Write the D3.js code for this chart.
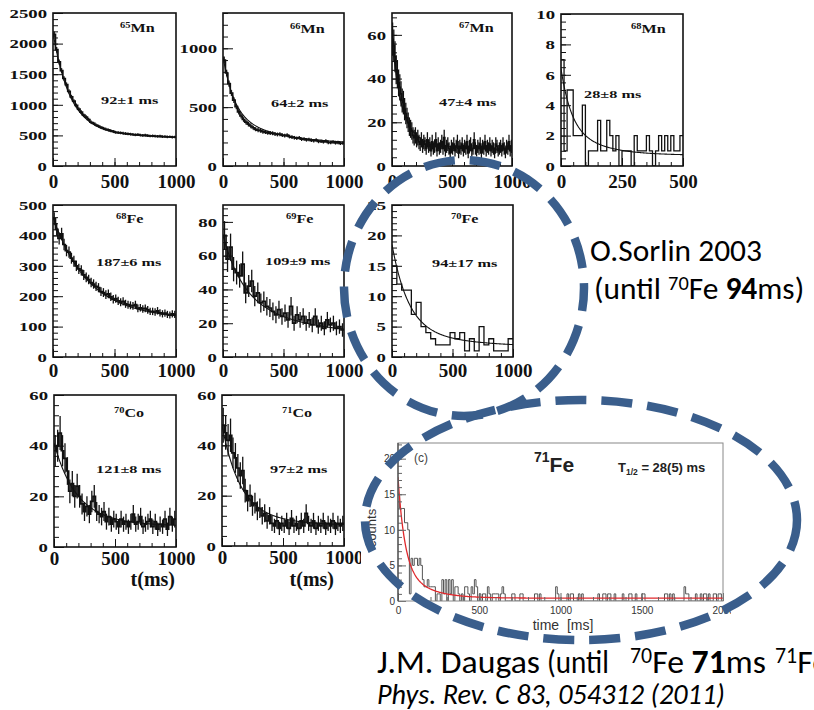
<!DOCTYPE html>
<html>
<head>
<meta charset="utf-8">
<script src="https://cdn.jsdelivr.net/npm/d3@7"></script>
<style>
  html, body { margin: 0; padding: 0; background: #fff; }
  svg { display: block; }
</style>
</head>
<body>
<svg id="chart" width="814" height="710"></svg>
<script>
// ---------- decay curves measured by O. Sorlin et al. (2003) ----------
const nuclideMasses   = [65, 66, 67, 68, 68, 69, 70, 70, 71];
const nuclideElements = ["Mn", "Mn", "Mn", "Mn", "Fe", "Fe", "Fe", "Co", "Co"];
const halfLives       = [92, 64, 47, 28, 187, 109, 94, 121, 97];
const halfLifeErrors  = [1, 2, 4, 8, 6, 9, 17, 8, 2];
const binWidths       = [20, 20, 10, 12.5, 20, 25, 40, 20, 20];
const timeRanges      = [1000, 1000, 1000, 500, 1000, 1000, 1000, 1000, 1000];
const countRanges     = [2500, 1300, 70, 10, 500, 90, 25, 60, 60];
const countTickSteps  = [500, 500, 20, 2, 100, 20, 5, 20, 20];
const countMinorSteps = [100, 100, 4, 0.5, 20, 4, 1, 4, 4];
const timeTickSteps   = [500, 500, 500, 250, 500, 500, 500, 500, 500];
const timeMinorSteps  = [100, 100, 100, 50, 100, 100, 100, 100, 100];
// fit model: parent decay (stated half-life) + daughter/contaminant component + flat background
const parentAmps        = [1495, 500, 40, 3.5, 310, 35, 14, 28, 32];
const daughterAmps      = [240, 250, 12, 2.2, 60, 25, 3, 5, 8];
const daughterHalfLives = [300, 300, 150, 90, 1500, 400, 400, 300, 250];
const backgrounds       = [445, 180, 7.5, 0.7, 90, 12, 1.5, 8, 8];
const withErrorBars     = [true, true, true, false, true, true, false, true, true];

const counts65Mn = [2150,1900,1700,1560,1430,1330,1220,1130,1060,990, 930,880,830,800,760,715,695,670,650,630,
  615,600,590,575,565,550,545,540,535,530, 525,520,515,510,512,505,500,503,495,490, 492,488,485,487,480,482,476,478,472,474];
const counts66Mn = [900,790,700,620,560,505,460,425,395,372,355,340,325,312,305,300,292,288,282,280,
  278,272,268,270,262,258,262,250,245,240,236,240,228,230,222,225,218,215,220,208,210,205,212,200,198,205,196,200,192,195];
const counts67Mn = [58,55,50,44,42,38,36,33,30,29, 26,24,22,20,18,17,16,14,13,14,
  12,13,11,10,12,9,11,10,8,12, 9,10,7,11,8,9,12,7,10,8, 9,11,8,13,7,9,10,8,6,9,
  8,10,7,9,11,6,9,8,10,7, 9,8,11,6,9,10,7,8,12,8, 7,9,8,10,6,9,8,11,7,9,
  8,10,7,9,8,6,10,9,7,8, 9,7,10,8,6,9,8,11,7,9];
const counts68Mn = [7,1,5,5,2,2,2,4,0,1,1,1,3,1,1,3,2,1,2,0,1,1,1,0,2,1,1,1,2,1,0,1,2,1,2,1,2,1,1,2];
const counts68Fe = [455,420,390,405,370,350,345,325,315,300,290,285,270,262,255,245,240,232,228,215,
  212,205,208,198,190,192,185,180,183,175,172,170,168,172,160,162,158,160,155,150,150,148,152,145,142,144,140,138,142,140];
const counts69Fe = [72,58,65,52,50,48,55,38,42,45,36,38,32,33,30,29,27,25,28,24,
  26,22,30,20,25,22,24,20,22,19,24,18,20,17,22,19,20,17,18,16];
const counts70Fe = [15,12,11,11,7,9,5,4,3,2,2,2,4,3,4,1,3,1,5,2,3,1,1,1,3];
const counts70Co = [38,40,45,38,35,30,22,25,20,24,20,17,14,16,13,18,20,14,13,12,14,10,12,9,11,
  10,8,11,9,10,8,10,13,9,10,12,8,9,10,11,8,10,7,9,8,11,7,12,9,11];
const counts71Co = [48,45,42,44,37,35,31,28,30,22,18,20,16,17,14,15,12,13,10,12,9,8,10,7,9,
  8,10,7,11,8,9,7,10,8,13,9,8,10,7,9,8,10,7,9,8,10,7,9,8,9];
const sorlinCounts = [counts65Mn, counts66Mn, counts67Mn, counts68Mn, counts68Fe,
  counts69Fe, counts70Fe, counts70Co, counts71Co];

// ---------- 71Fe decay curve, J.M. Daugas et al. (2011) ----------
const fe71Counts = [
  15,13,13,13,11,11,10,1,6,5, 6,6,5,6,5,3,2,2,3,2, 2,2,2,0,1,1,0,3,1,3, 0,3,1,3,0,2,2,1,0,1,
  0,2,2,1,0,2,1,3,2,0, 1,0,1,1,0,2,1,0,1,1, 1,1,0,1,2,1,0,0,0,0, 1,1,0,0,0,1,1,0,0,0,
  0,0,0,0,1,1,0,1,0,0, 0,0,0,0,0,0,0,2,1,0, 0,0,0,0,1,0,1,1,0,0, 0,1,0,1,0,0,0,0,0,0,
  0,0,0,1,0,0,1,1,0,1, 1,0,0,1,0,0,0,0,1,0, 0,0,1,1,0,0,1,0,0,0, 1,1,0,0,0,0,0,0,0,0,
  0,0,0,0,1,1,0,1,0,1, 0,0,0,0,0,0,2,1,1,0, 0,0,0,1,0,0,1,0,1,1, 0,1,0,0,1,1,0,1,1,0];
const fe71BinWidth = 10;
const fe71TimeRange = 2000;
const fe71CountRange = 22.2;
const fe71HalfLife = 28;
const fe71HalfLifeError = 5;
const fe71ParentAmp = 12;
const fe71DaughterAmp = 5;
const fe71DaughterHalfLife = 97;
const fe71Background = 0.4;
const daugasFe70HalfLife = 71;

// ---------- layout ----------
const frames = [
  { x: 53,  y: 13,  w: 123, h: 153 },
  { x: 223, y: 13,  w: 121, h: 153 },
  { x: 392, y: 13,  w: 120, h: 153 },
  { x: 561, y: 14,  w: 122, h: 152 },
  { x: 53,  y: 205, w: 123, h: 152 },
  { x: 223, y: 205, w: 121, h: 152 },
  { x: 392, y: 205, w: 121, h: 152 },
  { x: 54,  y: 395, w: 122, h: 152 },
  { x: 222, y: 395, w: 122, h: 151 }
];
// nuclide label (dx, dy) and half-life label (dx, dy), relative to each frame's top-left
const labelOffsets = [
  [67, 19, 48, 91], [67, 20, 48, 94], [67, 19, 47, 93], [70, 19, 23, 84],
  [63, 18, 43, 61], [63, 18, 42, 60], [59, 18, 40, 62], [60, 22, 42, 78], [60, 22, 48, 78]
];
const timeLabelDrops = [22, 22, 22, 22, 20, 20, 20, 18, 18];
const serif = "'Liberation Serif', 'Times New Roman', Times, serif";
const sans = "'Liberation Sans', Arial, Helvetica, sans-serif";
const slideFont = "Carlito, Calibri, Lato, 'Open Sans', sans-serif";
const ink = "#111";
const annotationBlue = "#3a5e8c";

const svg = d3.select("#chart");
svg.append("rect").attr("width", 814).attr("height", 710).attr("fill", "#fff");
const defs = svg.append("defs");

function decayModel(t, A, T, D, Td, B) {
  return A * Math.pow(2, -t / T) + D * Math.pow(2, -t / Td) + B;
}
function stepPoints(counts, bw) {
  const pts = counts.map((v, k) => [k * bw, v]);
  pts.push([counts.length * bw, counts[counts.length - 1]]);
  return pts;
}
function ticksUpTo(max, step) {
  return d3.range(0, max + step * 1e-6, step);
}

// ---------- Sorlin panels ----------
sorlinCounts.forEach((counts, i) => {
  const f = frames[i];
  const x = d3.scaleLinear().domain([0, timeRanges[i]]).range([f.x, f.x + f.w]);
  const y = d3.scaleLinear().domain([0, countRanges[i]]).range([f.y + f.h, f.y]);
  const g = svg.append("g");

  const clipId = "clip" + i;
  defs.append("clipPath").attr("id", clipId)
    .append("rect").attr("x", f.x).attr("y", f.y).attr("width", f.w).attr("height", f.h);
  const plot = g.append("g").attr("clip-path", `url(#${clipId})`);

  const bw = binWidths[i];
  const line = d3.line().x(d => x(d[0])).y(d => y(d[1]));
  plot.append("path")
    .attr("d", line.curve(d3.curveStepAfter)(stepPoints(counts, bw)))
    .attr("fill", "none").attr("stroke", ink)
    .attr("stroke-width", withErrorBars[i] ? 1.7 : 1.3);

  if (withErrorBars[i]) {
    plot.selectAll("line.err").data(counts).join("line")
      .attr("x1", (d, k) => x((k + 0.5) * bw)).attr("x2", (d, k) => x((k + 0.5) * bw))
      .attr("y1", d => y(d - Math.sqrt(d))).attr("y2", d => y(d + Math.sqrt(d)))
      .attr("stroke", ink).attr("stroke-width", 1.3);
  }

  const ts = d3.range(0, timeRanges[i] + 0.001, timeRanges[i] / 300);
  plot.append("path")
    .attr("d", d3.line().x(t => x(t))
      .y(t => y(decayModel(t, parentAmps[i], halfLives[i], daughterAmps[i], daughterHalfLives[i], backgrounds[i])))(ts))
    .attr("fill", "none").attr("stroke", ink).attr("stroke-width", 1.1);

  // left axis: long labelled ticks plus short minor ticks, all pointing inwards
  const yMinor = g.append("g").attr("transform", `translate(${f.x},0)`)
    .call(d3.axisLeft(y).tickValues(ticksUpTo(countRanges[i], countMinorSteps[i])).tickSize(-5).tickFormat(""));
  const yMajor = g.append("g").attr("transform", `translate(${f.x},0)`)
    .call(d3.axisLeft(y).tickValues(ticksUpTo(countRanges[i], countTickSteps[i])).tickSize(-10).tickFormat(d3.format("d")));
  const xMinor = g.append("g").attr("transform", `translate(0,${f.y + f.h})`)
    .call(d3.axisBottom(x).tickValues(ticksUpTo(timeRanges[i], timeMinorSteps[i])).tickSize(-4).tickFormat(""));
  const xMajor = g.append("g").attr("transform", `translate(0,${f.y + f.h})`)
    .call(d3.axisBottom(x).tickValues(ticksUpTo(timeRanges[i], timeTickSteps[i])).tickSize(-8).tickFormat(d3.format("d")));
  [yMinor, yMajor, xMinor, xMajor].forEach(a => {
    a.select(".domain").remove();
    a.selectAll(".tick line").attr("stroke", ink).attr("stroke-width", 1);
    a.attr("font-family", serif).attr("font-weight", "bold").attr("fill", ink);
  });
  yMajor.selectAll(".tick text")
    .attr("x", 0).attr("dy", "0.34em").attr("font-size", 12.5).attr("fill", ink)
    .attr("transform", "translate(-6,0) scale(1.5,1)");
  xMajor.selectAll(".tick text")
    .attr("y", timeLabelDrops[i]).attr("dy", 0).attr("font-size", 19).attr("fill", ink);

  g.append("rect").attr("x", f.x).attr("y", f.y).attr("width", f.w).attr("height", f.h)
    .attr("fill", "none").attr("stroke", ink).attr("stroke-width", 1.6);

  const o = labelOffsets[i];
  const nuc = g.append("text")
    .attr("transform", `translate(${f.x + o[0]},${f.y + o[1]}) scale(1.4,1)`)
    .attr("font-family", serif).attr("font-weight", "bold").attr("fill", ink);
  nuc.append("tspan").attr("font-size", 7.5).attr("dy", -4).text(nuclideMasses[i]);
  nuc.append("tspan").attr("font-size", 11.5).attr("dy", 4).text(nuclideElements[i]);

  g.append("text")
    .attr("transform", `translate(${f.x + o[2]},${f.y + o[3]}) scale(1.55,1)`)
    .attr("font-family", serif).attr("font-weight", "bold").attr("font-size", 10.5).attr("fill", ink)
    .text(`${halfLives[i]}±${halfLifeErrors[i]} ms`);
});

// time-axis titles under the bottom row
[[175, 586], [334, 586]].forEach(p => {
  svg.append("text").attr("x", p[0]).attr("y", p[1]).attr("text-anchor", "end")
    .attr("font-family", serif).attr("font-weight", "bold").attr("font-size", 20).attr("fill", ink)
    .text("t(ms)");
});

// ---------- 71Fe panel ----------
(function () {
  const box = { x: 361, y: 437, w: 370, h: 203 };
  const f = { x: 398, y: 443, w: 325, h: 158 };
  defs.append("clipPath").attr("id", "fe71fig")
    .append("rect").attr("x", box.x).attr("y", box.y).attr("width", box.w).attr("height", box.h);
  defs.append("clipPath").attr("id", "fe71plot")
    .append("rect").attr("x", f.x).attr("y", f.y).attr("width", f.w).attr("height", f.h);
  const g = svg.append("g").attr("clip-path", "url(#fe71fig)");
  g.append("rect").attr("x", box.x).attr("y", box.y).attr("width", box.w).attr("height", box.h).attr("fill", "#fff");

  const x = d3.scaleLinear().domain([0, fe71TimeRange]).range([f.x, f.x + f.w]);
  const y = d3.scaleLinear().domain([0, fe71CountRange]).range([f.y + f.h, f.y]);
  const plot = g.append("g").attr("clip-path", "url(#fe71plot)");

  plot.append("path")
    .attr("d", d3.line().x(d => x(d[0])).y(d => y(d[1])).curve(d3.curveStepAfter)(stepPoints(fe71Counts, fe71BinWidth)))
    .attr("fill", "none").attr("stroke", "#555").attr("stroke-width", 1);
  const ts = d3.range(0, fe71TimeRange + 0.001, 4);
  plot.append("path")
    .attr("d", d3.line().x(t => x(t))
      .y(t => y(decayModel(t, fe71ParentAmp, fe71HalfLife, fe71DaughterAmp, fe71DaughterHalfLife, fe71Background)))(ts))
    .attr("fill", "none").attr("stroke", "#e0282c").attr("stroke-width", 1.3);

  const axes = [
    g.append("g").attr("transform", `translate(${f.x},0)`)
      .call(d3.axisLeft(y).tickValues(ticksUpTo(22, 1)).tickSize(-4).tickFormat("")),
    g.append("g").attr("transform", `translate(${f.x},0)`)
      .call(d3.axisLeft(y).tickValues(ticksUpTo(20, 5)).tickSize(-8).tickPadding(3)),
    g.append("g").attr("transform", `translate(0,${f.y + f.h})`)
      .call(d3.axisBottom(x).tickValues(ticksUpTo(fe71TimeRange, 100)).tickSize(-4).tickFormat("")),
    g.append("g").attr("transform", `translate(0,${f.y + f.h})`)
      .call(d3.axisBottom(x).tickValues(ticksUpTo(fe71TimeRange, 500)).tickSize(-8).tickFormat(d3.format("d")))
  ];
  axes.forEach(a => {
    a.select(".domain").remove();
    a.selectAll(".tick line").attr("stroke", "#666").attr("stroke-width", 1);
    a.attr("font-family", sans).attr("font-size", 10);
    a.selectAll(".tick text").attr("fill", "#333");
  });
  axes[3].selectAll(".tick text").attr("y", 13).attr("dy", 0);

  g.append("rect").attr("x", f.x).attr("y", f.y).attr("width", f.w).attr("height", f.h)
    .attr("fill", "none").attr("stroke", "#888").attr("stroke-width", 1);
  g.append("line").attr("x1", f.x).attr("x2", f.x).attr("y1", f.y).attr("y2", f.y + f.h)
    .attr("stroke", "#444").attr("stroke-width", 1.2);

  g.append("text").attr("x", 414).attr("y", 462).attr("font-family", sans).attr("font-size", 12)
    .attr("fill", "#444").text("(c)");
  const title = g.append("text").attr("x", 534).attr("y", 472)
    .attr("font-family", sans).attr("font-weight", "bold").attr("fill", "#222");
  title.append("tspan").attr("font-size", 14).attr("dy", -10).text("71");
  title.append("tspan").attr("font-size", 21).attr("dy", 10).text("Fe");
  const th = g.append("text").attr("x", 618).attr("y", 472)
    .attr("font-family", sans).attr("font-weight", "bold").attr("font-size", 13).attr("fill", "#222");
  th.append("tspan").text("T");
  th.append("tspan").attr("font-size", 8.5).attr("dy", 3).text("1/2");
  th.append("tspan").attr("dy", -3).text(` = ${fe71HalfLife}(${fe71HalfLifeError}) ms`);

  g.append("text").attr("transform", "translate(376,528) rotate(-90)").attr("text-anchor", "middle")
    .attr("font-family", sans).attr("font-size", 13).attr("fill", "#333").text("counts");
  g.append("text").attr("x", 563).attr("y", 630).attr("text-anchor", "middle")
    .attr("font-family", sans).attr("font-size", 14).attr("fill", "#333")
    .style("white-space", "pre").text("time  [ms]");
})();

// ---------- dashed highlight outlines ----------
svg.append("ellipse").attr("cx", 464).attr("cy", 288).attr("rx", 120).attr("ry", 128)
  .attr("fill", "none").attr("stroke", annotationBlue).attr("stroke-width", 8.5)
  .attr("stroke-dasharray", "31 15").attr("stroke-dashoffset", 8);
svg.append("ellipse").attr("cx", 581).attr("cy", 520).attr("rx", 216).attr("ry", 120)
  .attr("fill", "none").attr("stroke", annotationBlue).attr("stroke-width", 8.5)
  .attr("stroke-dasharray", "31 15").attr("stroke-dashoffset", 0);

// ---------- annotations ----------
function fitFontSize(sel, nChars, width) {
  const fs = parseFloat(sel.attr("font-size"));
  const w = sel.node().getSubStringLength(0, nChars);
  const nfs = fs * width / w;
  sel.attr("font-size", nfs);
  return nfs;
}
function addSup(sel, txt, xPos) {
  const t = sel.append("tspan").attr("font-size", "0.65em").attr("dy", "-0.46em").text(txt);
  if (xPos !== undefined) t.attr("x", xPos);
}

const s1 = svg.append("text").attr("x", 590).attr("y", 261).attr("font-family", slideFont)
  .attr("font-size", 28).attr("fill", "#000").text("O.Sorlin 2003");
const sorlinSize = fitFontSize(s1, 13, 172);
const s2 = svg.append("text").attr("x", 594).attr("y", 299).attr("font-family", slideFont)
  .attr("font-size", sorlinSize).attr("fill", "#000").style("white-space", "pre");
s2.append("tspan").text("(until ");
addSup(s2, "70");
s2.append("tspan").attr("dy", "0.3em").text("Fe ");
s2.append("tspan").attr("font-weight", "bold").text(String(halfLives[6]));
s2.append("tspan").text("ms)");

const d1 = svg.append("text").attr("y", 673).attr("font-family", slideFont)
  .attr("font-size", 28).attr("fill", "#000").style("white-space", "pre");
d1.append("tspan").attr("x", 377).text("J.M. Daugas");
fitFontSize(d1, 11, 163);
d1.append("tspan").attr("x", 547).attr("textLength", 62).attr("lengthAdjust", "spacingAndGlyphs").text("(until");
addSup(d1, "70", 630);
d1.append("tspan").attr("dy", "0.3em").text("Fe ");
d1.append("tspan").attr("font-weight", "bold").text(String(daugasFe70HalfLife));
d1.append("tspan").text("ms");
addSup(d1, "71", 775);
d1.append("tspan").attr("dy", "0.3em").text("Fe");

const c1 = svg.append("text").attr("x", 377).attr("y", 704).attr("font-family", slideFont)
  .attr("font-style", "italic").attr("font-size", 21).attr("fill", "#000")
  .text("Phys. Rev. C 83, 054312 (2011)");
fitFontSize(c1, 30, 348);
</script>
</body>
</html>
